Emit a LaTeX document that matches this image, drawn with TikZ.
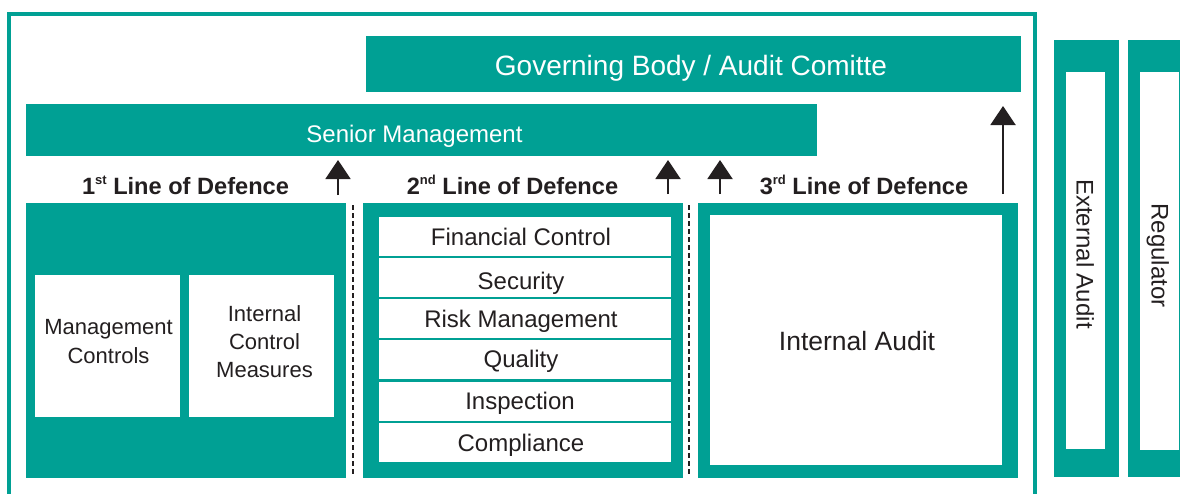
\documentclass[tikz,border=0pt]{standalone}
\usepackage{fontspec}
\setmainfont{Liberation Sans}
\usetikzlibrary{arrows.meta}
\definecolor{tealc}{HTML}{00A094}
\definecolor{ink}{HTML}{231F20}
\newcommand\rectnode[6]{\node[#1, minimum width={(#4-#2)*1pt}, minimum height={(#5-#3)*1pt}] (#6) at ({(#2+#4)/2},{(#3+#5)/2}) {};}
\newcommand\supx[1]{\raisebox{0.42em}{\fontsize{13}{15}\selectfont #1}}
\begin{document}
\begin{tikzpicture}[x=1pt,y=-1pt,
  tbox/.style={fill=tealc, draw=none, inner sep=0pt, outer sep=0pt},
  wbox/.style={fill=white, draw=none, inner sep=0pt, outer sep=0pt},
  wtext/.style={text=white, inner sep=0pt, anchor=base},
  heading/.style={text=ink, inner sep=0pt, anchor=base, font=\fontsize{23.6}{27}\selectfont\bfseries},
  celltext/.style={text=ink, inner sep=0pt, text height=17pt, text depth=0pt, font=\fontsize{24}{28}\selectfont},
  multitext/.style={text=ink, inner sep=0pt, align=center, font=\fontsize{22}{28.3}\selectfont},
  uparrow/.style={draw=ink, line width=2pt, -{Triangle[width=25pt,length=19pt]}},
  divider/.style={draw=ink, line width=2pt, dash pattern=on 5pt off 3pt}
]
\useasboundingbox (0,0) rectangle (1180,493);
% outer frame (open at bottom)
\draw[tealc, line width=4pt] (9,496) -- (9,14) -- (1035,14) -- (1035,496);

% governing body and senior management
\rectnode{tbox}{366}{36}{1021}{92}{gov}
\node[wtext, font=\fontsize{28}{32}\selectfont] (govt) at (691,75) {Governing Body / Audit Comitte};
\rectnode{tbox}{26}{104}{817}{156}{sm}
\node[wtext, font=\fontsize{24}{28}\selectfont] (smt) at (414.5,142.5) {Senior Management};

% headings
\node[heading] (h1) at (185.5,194) {1\supx{st} Line of Defence};
\node[heading] (h2) at (512.5,194) {2\supx{nd} Line of Defence};
\node[heading] (h3) at (864,194) {3\supx{rd} Line of Defence};

% first line
\rectnode{tbox}{26}{203}{346}{478}{c1}
\rectnode{wbox}{35}{275}{180}{417}{mc}
\rectnode{wbox}{189}{275}{334}{417}{icm}
\node[multitext] (mct) at (108.5,341.5) {Management\\Controls};
\node[multitext] (icmt) at (264.5,341.5) {Internal\\Control\\Measures};

% second line
\rectnode{tbox}{363}{203}{683}{478}{c2}
\rectnode{wbox}{379}{217}{671}{256}{r1}
\rectnode{wbox}{379}{258}{671}{297}{r2}
\rectnode{wbox}{379}{299}{671}{338}{r3}
\rectnode{wbox}{379}{340}{671}{378.5}{r4}
\rectnode{wbox}{379}{381.5}{671}{421}{r5}
\rectnode{wbox}{379}{423}{671}{462}{r6}
\node[celltext] (r1t) at ([xshift=-4pt]r1.center) {Financial Control};
\node[celltext] (r2t) at ([xshift=-4pt,yshift=-3pt]r2.center) {Security};
\node[celltext] (r3t) at ([xshift=-4pt]r3.center) {Risk Management};
\node[celltext] (r4t) at ([xshift=-4pt]r4.center) {Quality};
\node[celltext] (r5t) at ([xshift=-5pt]r5.center) {Inspection};
\node[celltext] (r6t) at ([xshift=-4pt]r6.center) {Compliance};

% third line
\rectnode{tbox}{698}{203}{1018}{478}{c3}
\rectnode{wbox}{710}{215}{1002}{465}{ia}
\node[celltext, text height=19pt, font=\fontsize{26.5}{30}\selectfont] (iat) at (857,341) {Internal Audit};

% external audit and regulator
\rectnode{tbox}{1054}{40}{1119}{477}{ea}
\rectnode{wbox}{1066}{72}{1105}{449}{eai}
\node[celltext, rotate=-90] (eat) at (1085,254) {External Audit};
\rectnode{tbox}{1128}{40}{1182}{477}{rg}
\rectnode{wbox}{1140}{72}{1179}{450}{rgi}
\node[celltext, rotate=-90] (rgt) at (1160,255.5) {Regulator};

% dashed dividers
\coordinate (d1a) at (353,205); \coordinate (d1b) at (353,476);
\coordinate (d2a) at (689,205); \coordinate (d2b) at (689,476);
\draw[divider] (d1a) -- (d1b);
\draw[divider] (d2a) -- (d2b);

% arrows
\coordinate (a1s) at (338,195); \coordinate (a1e) at (338,160);
\coordinate (a2s) at (668,194); \coordinate (a2e) at (668,160);
\coordinate (a3s) at (720,194); \coordinate (a3e) at (720,160);
\coordinate (a4s) at (1003,194); \coordinate (a4e) at (1003,106);
\draw[uparrow] (a1s) -- (a1e);
\draw[uparrow] (a2s) -- (a2e);
\draw[uparrow] (a3s) -- (a3e);
\draw[uparrow] (a4s) -- (a4e);
\end{tikzpicture}
\end{document}
